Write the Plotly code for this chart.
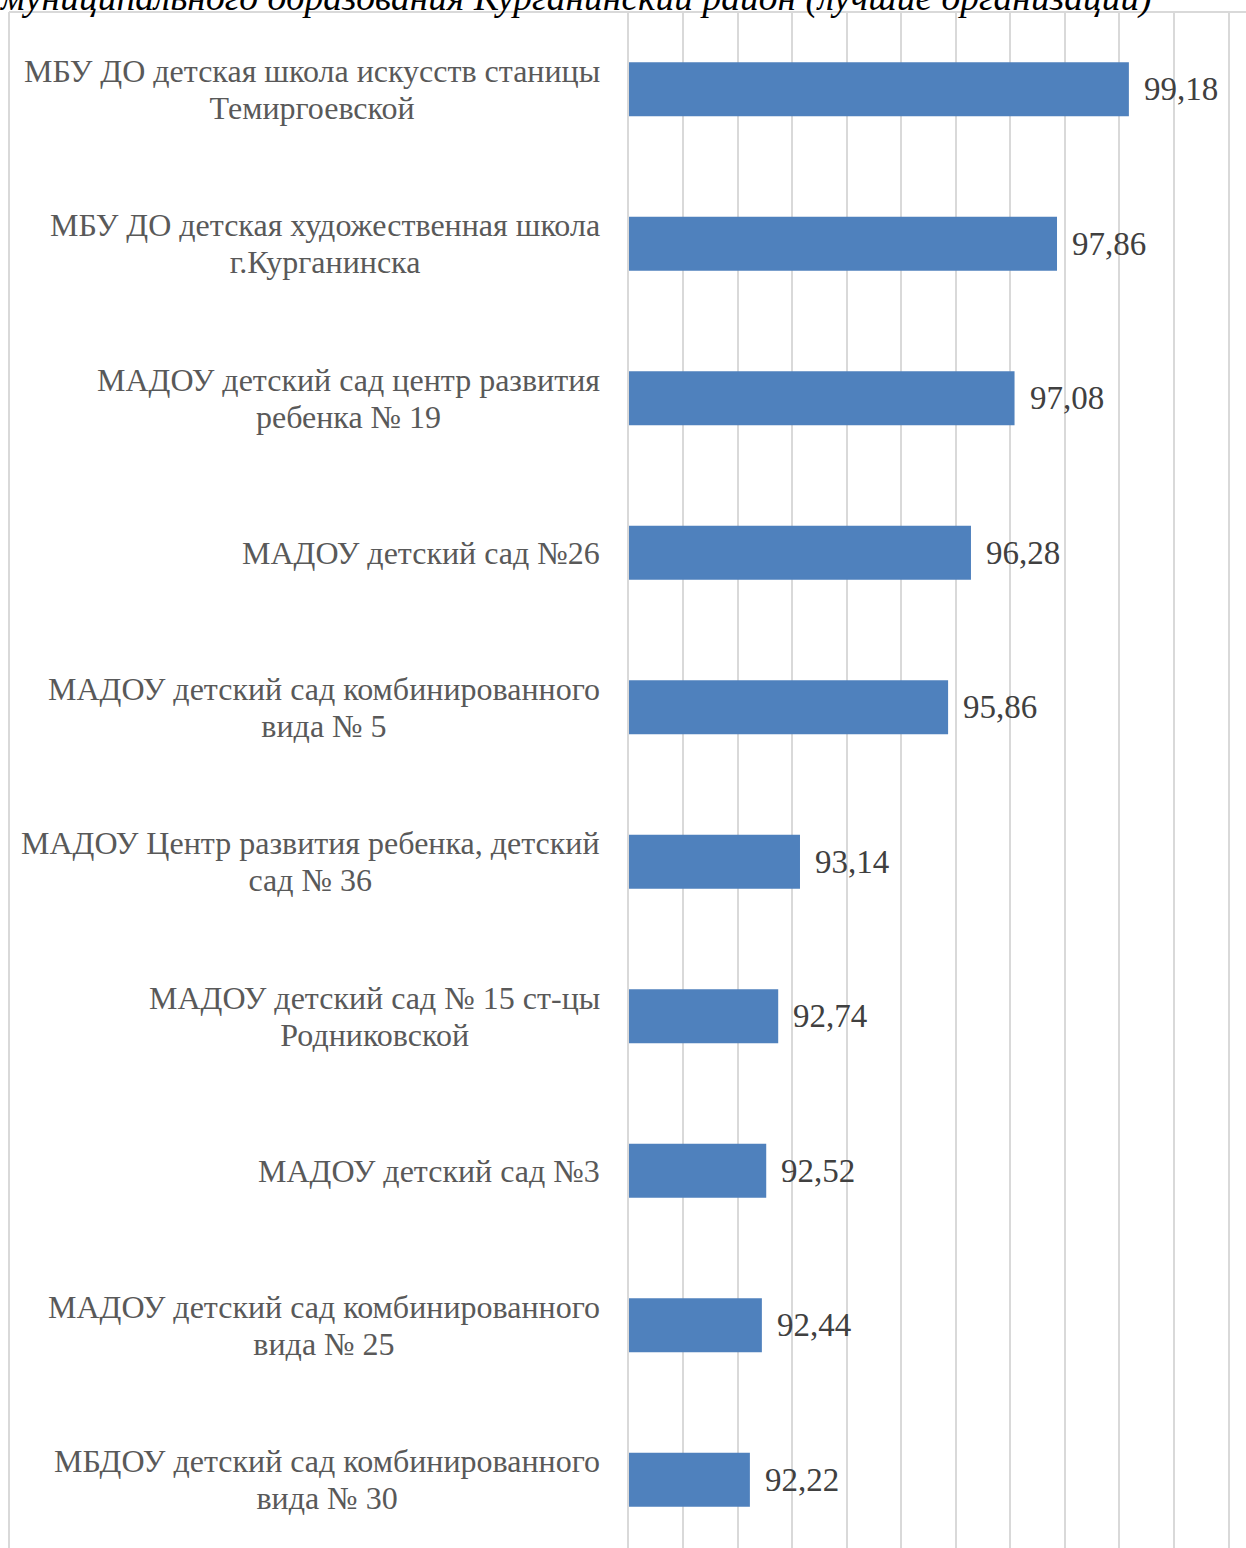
import plotly.graph_objects as go

categories = [
    "МБУ ДО детская школа искусств станицы<br>Темиргоевской",
    "МБУ ДО детская художественная школа<br>г.Курганинска",
    "МАДОУ детский сад центр развития<br>ребенка № 19",
    "МАДОУ детский сад №26",
    "МАДОУ детский сад комбинированного<br>вида № 5",
    "МАДОУ Центр развития ребенка, детский<br>сад № 36",
    "МАДОУ детский сад № 15 ст-цы<br>Родниковской",
    "МАДОУ детский сад №3",
    "МАДОУ детский сад комбинированного<br>вида № 25",
    "МБДОУ детский сад комбинированного<br>вида № 30",
]
values = [99.18, 97.86, 97.08, 96.28, 95.86, 93.14, 92.74, 92.52, 92.44, 92.22]
title_text = "муниципального образования Курганинский район (лучшие организации)"

W, H = 1246, 1548
ML, MR, MT, MB = 629, 18, 12, 0
pw = W - ML - MR

fig = go.Figure()
fig.add_trace(go.Bar(
    x=values, y=categories, orientation="h",
    marker=dict(color="#4f81bd", line=dict(width=0)),
    width=0.35, hoverinfo="skip",
))

annotations = []
for c, v in zip(categories, values):
    lbl = "<br>".join(f'<span style="font-size:32px">{p}</span>' for p in c.split("<br>"))
    annotations.append(dict(
        x=0, xref="paper", y=c, yref="y", xanchor="right", yanchor="middle",
        xshift=-27, text=lbl, showarrow=False, align="center",
        font=dict(family="Liberation Serif", size=28.5, color="#595959"),
    ))
    annotations.append(dict(
        x=v, xref="x", y=c, yref="y", xanchor="left", yanchor="middle",
        xshift=13, text=f"{v:.2f}".replace(".", ","), showarrow=False,
        font=dict(family="Liberation Serif", size=33, color="#404040"),
    ))

annotations.append(dict(
    x=(-3 - ML) / pw, xref="paper", y=1, yref="paper", xanchor="left", yanchor="bottom",
    yshift=-9, text=f"<i>{title_text}</i>", showarrow=False,
    font=dict(family="Liberation Serif", size=37.5, color="#000000"),
))

bottom = -0.5 + (H - MT - MB) / 154.5

fig.update_layout(
    width=W, height=H,
    margin=dict(l=ML, r=MR, t=MT, b=MB, autoexpand=False),
    paper_bgcolor="white", plot_bgcolor="white",
    showlegend=False,
    annotations=annotations,
    xaxis=dict(range=[90, 101], dtick=1, tick0=90, showgrid=True, gridcolor="#d9d9d9",
               gridwidth=2, showticklabels=False, zeroline=False, showline=False,
               fixedrange=True),
    yaxis=dict(type="category", categoryorder="array", categoryarray=categories,
               range=[bottom, -0.5], autorange=False, showticklabels=False,
               showgrid=False, zeroline=False, showline=True, mirror=True,
               linecolor="#d9d9d9", linewidth=2, ticks="", fixedrange=True),
    shapes=[
        dict(type="line", xref="paper", yref="paper", x0=(9 - ML) / pw, x1=(W - ML) / pw,
             y0=1, y1=1, line=dict(color="#d9d9d9", width=2)),
        dict(type="line", xref="paper", yref="paper", x0=(9 - ML) / pw, x1=(9 - ML) / pw,
             y0=1, y1=-0.01, line=dict(color="#d9d9d9", width=2)),
    ],
)

fig.write_html("out.html", config=dict(displayModeBar=False),
               post_script="document.body.style.margin='0';document.body.style.overflow='hidden';")
